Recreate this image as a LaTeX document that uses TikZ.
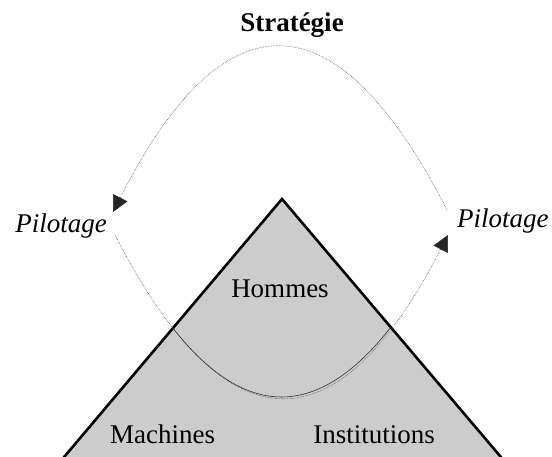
\documentclass[tikz,border=0pt]{standalone}
\usepackage{fontspec}
\setmainfont{Liberation Serif}
\usetikzlibrary{arrows.meta}

\begin{document}
\begin{tikzpicture}[x=1pt,y=1pt,
    every node/.style={inner sep=0pt},
    texte/.style={font=\fontsize{27}{31}\selectfont},
    pilot/.style={font=\fontsize{27}{31}\selectfont\itshape},
    titre/.style={font=\fontsize{27}{31}\selectfont\bfseries},
    pyramide/.style={fill=black!20,draw=black,line width=2.6pt},
    boucle/.style={black!65,line width=0.6pt,densely dotted},
    fleche/.style={-{Triangle[length=16pt,width=16pt,color=black!85]}}]
  \useasboundingbox (0,0) rectangle (552,456);
  \clip (0,0) rectangle (552,456);
  \coordinate (sommet) at (282,257);
  \coordinate (baseG) at (56.5,-10);
  \coordinate (baseD) at (508.5,-10);
  \filldraw[pyramide] (sommet) -- (baseG) -- (baseD) -- cycle;
  \node[titre,anchor=base] (strategie) at (292,424) {Stratégie};
  \node[pilot,anchor=base east] (pilotG) at (107,223) {Pilotage};
  \node[pilot,anchor=base west] (pilotD) at (457,228) {Pilotage};
  \node[texte,anchor=base] (hommes) at (280,159) {Hommes};
  \node[texte,anchor=base west] (machines) at (110,13) {Machines};
  \node[texte,anchor=base east] (institutions) at (435,13) {Institutions};
  \coordinate (hautD) at (447,246);
  \coordinate (hautG) at (113,244);
  \coordinate (basG) at (115,221);
  \coordinate (basD) at (448,221);
  \draw[boucle,fleche] (hautD) .. controls +(-111,217) and +(111,219) .. (hautG);
  \draw[boucle,fleche] (basG) .. controls +(111,-216) and +(-111,-216) .. (basD);
  \begin{scope}
    \clip (sommet) -- (baseG) -- (baseD) -- cycle;
    \draw[black!80,line width=0.6pt] (basG) .. controls +(111,-216) and +(-111,-216) .. (basD);
  \end{scope}
\end{tikzpicture}
\end{document}
